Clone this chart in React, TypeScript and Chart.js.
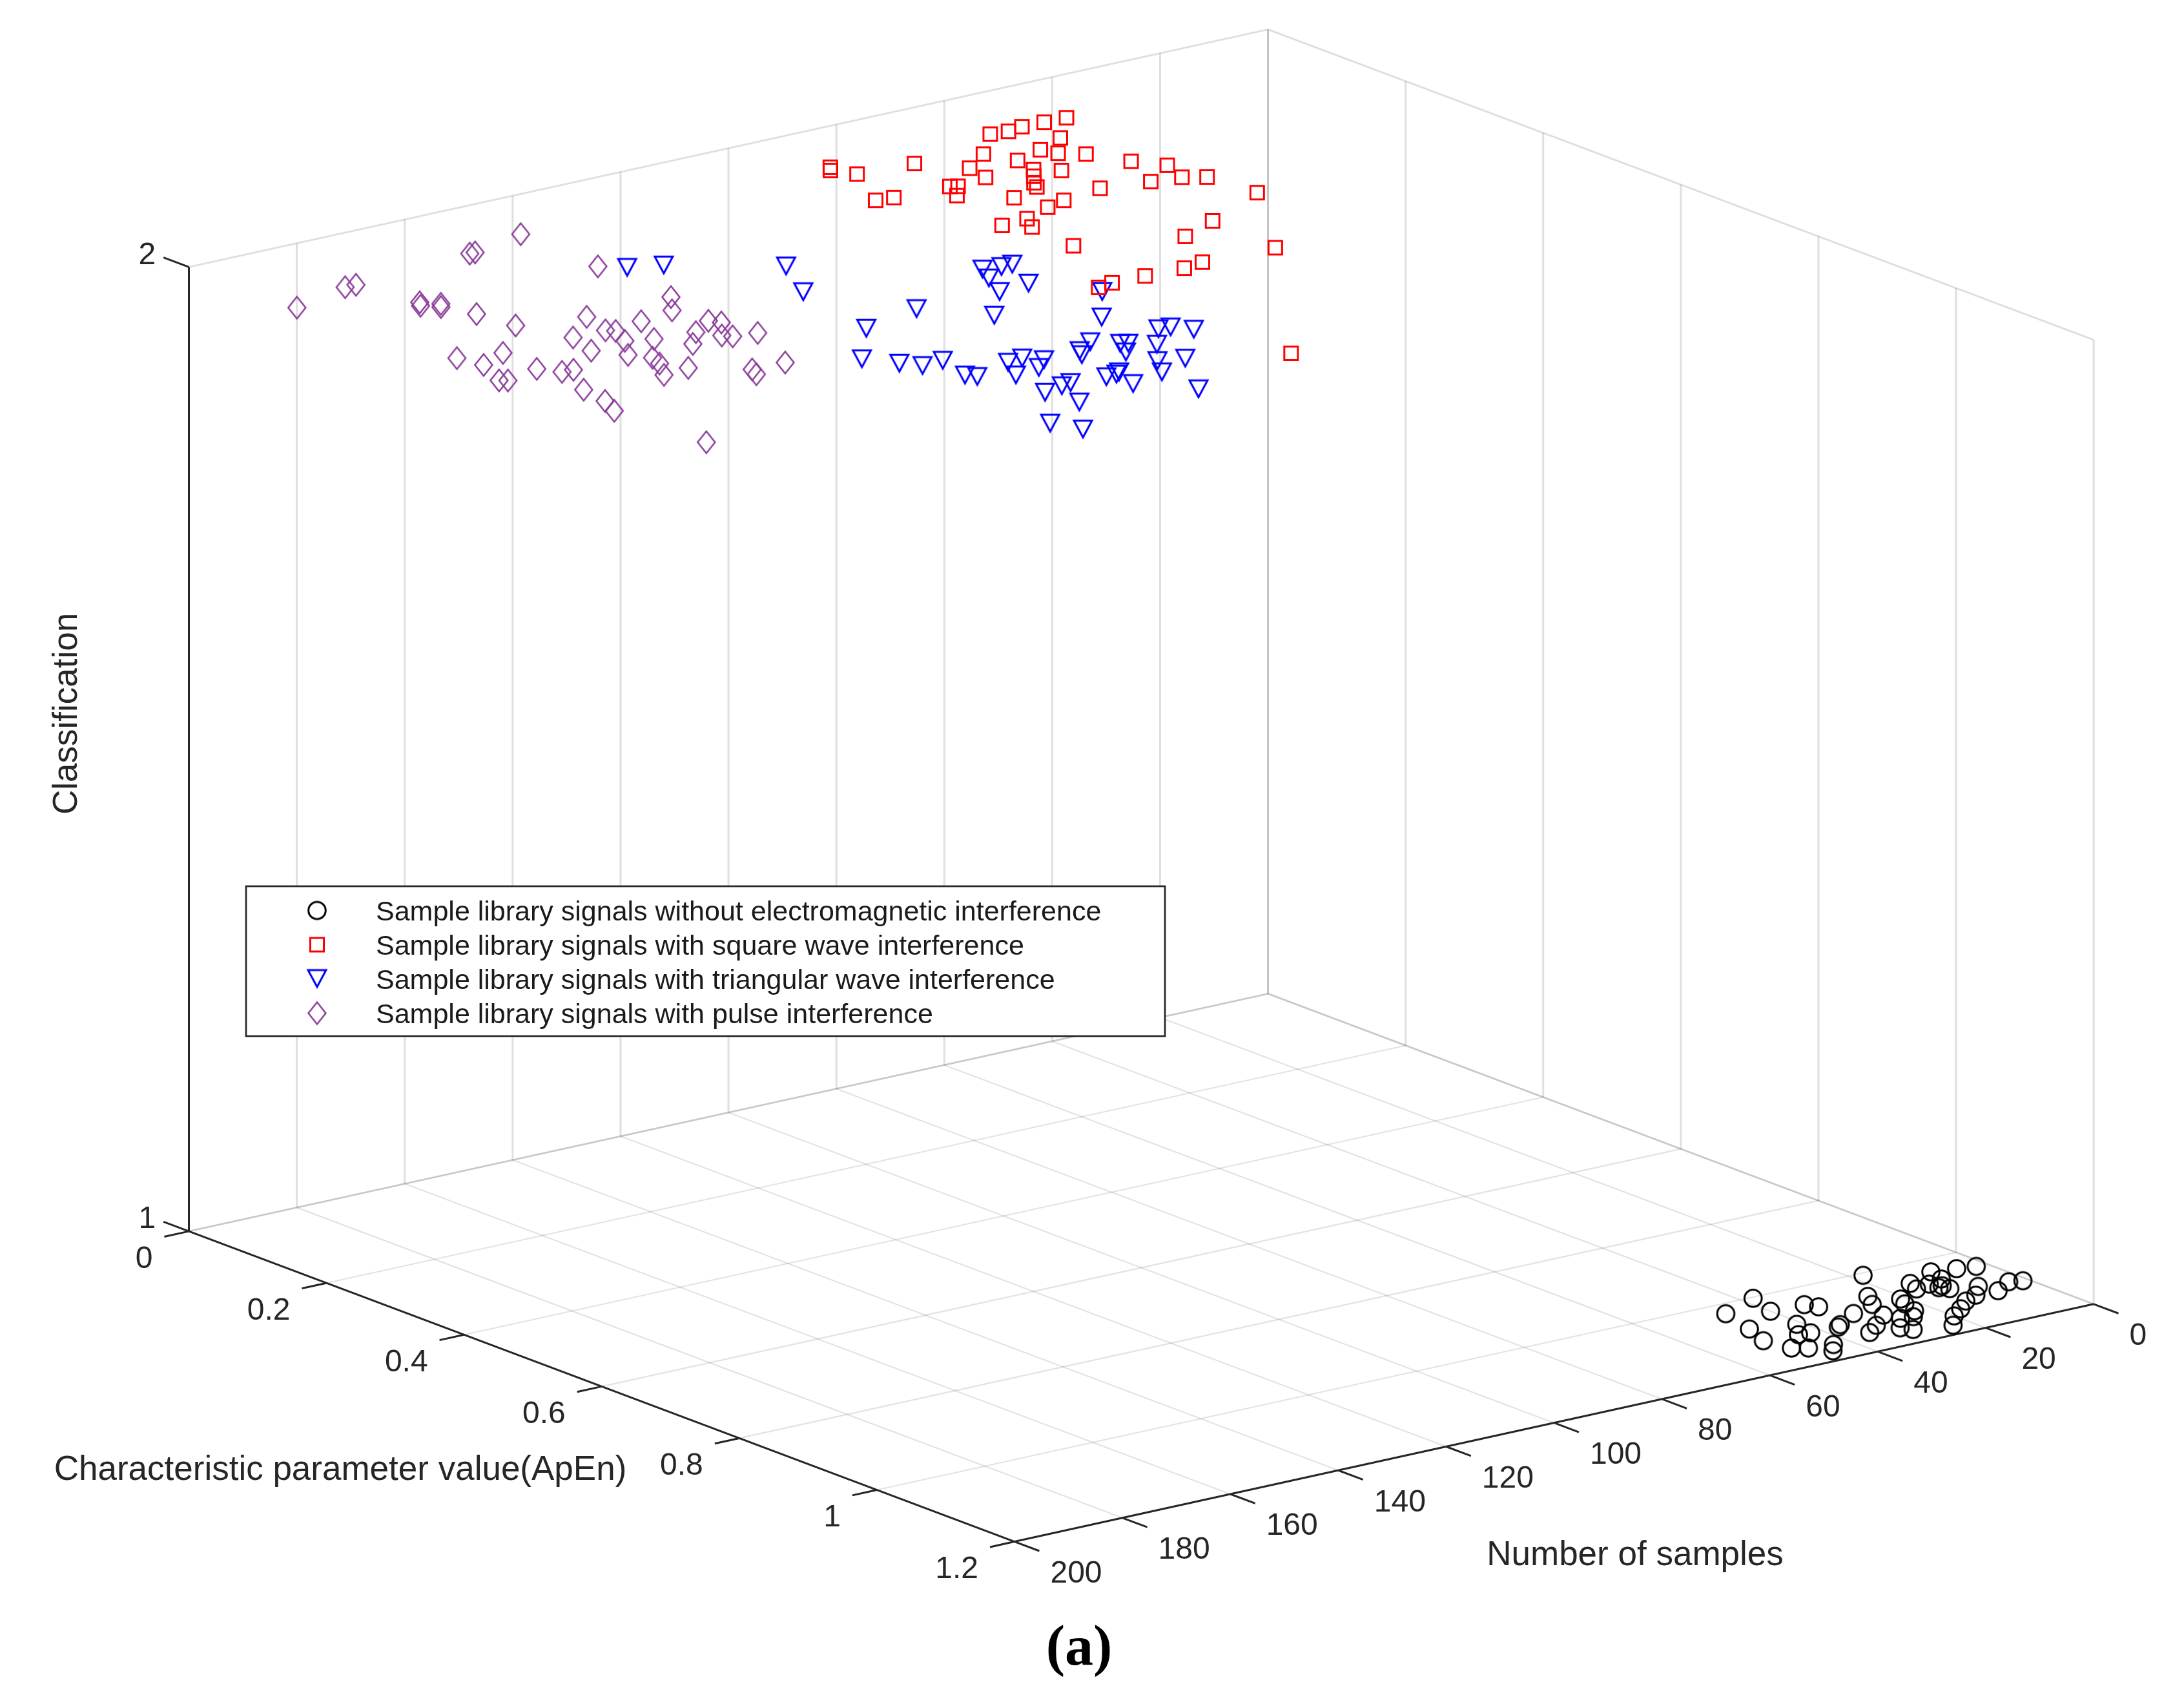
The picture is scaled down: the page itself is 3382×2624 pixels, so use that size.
import React, { useEffect, useRef } from "react";
import { Chart, registerables } from "chart.js";

Chart.register(...registerables);

const CANVAS_W = 3382;
const CANVAS_H = 2624;

// ---------------- data ----------------
const seriesLabels = [
  "Sample library signals without electromagnetic interference",
  "Sample library signals with square wave interference",
  "Sample library signals with triangular wave interference",
  "Sample library signals with pulse interference",
];
const seriesClass = [1, 2, 2, 2];

const cleanSamples = [1, 2, 3, 5, 7, 8, 9, 10, 11, 12, 12, 13, 13, 14, 15, 16, 17, 18, 20, 21, 22, 23, 23, 24, 25, 26, 27, 28, 29, 30, 31, 32, 33, 34, 35, 36, 37, 38, 40, 41, 42, 43, 44, 45, 46, 47, 48, 49, 50];
const cleanApEn = [1.105, 1.045, 1.1, 1.04, 1.116, 1.095, 1.034, 1.057, 1.115, 1.074, 1.085, 1.063, 1.077, 1.124, 1.051, 1.068, 1.14, 1.006, 1.154, 1.084, 1.098, 1.176, 1.12, 1.06, 1.134, 1.082, 1.131, 1.114, 1.165, 1.154, 1.094, 1.135, 1.059, 1.046, 1.149, 1.114, 1.119, 1.003, 1.044, 1.09, 1.118, 1.159, 1.116, 1.174, 1.026, 1.154, 1.076, 1.145, 1.112];

const squareSamples = [51, 52, 53, 54, 55, 56, 57, 58, 59, 60, 61, 62, 63, 64, 65, 66, 67, 68, 69, 70, 71, 72, 73, 74, 75, 76, 77, 78, 79, 80, 81, 82, 83, 84, 85, 86, 87, 88, 89, 90, 91, 92, 93, 94, 95, 96, 97, 98, 99, 100];
const squareApEn = [0.107, 0.392, 0.327, 0.277, 0.106, 0.314, 0.248, 0.153, 0.105, 0.206, 0.308, 0.109, 0.189, 0.171, 0.106, 0.437, 0.536, 0.233, 0.297, 0.185, 0.216, 0.151, 0.232, 0.46, 0.248, 0.26, 0.307, 0.178, 0.209, 0.532, 0.315, 0.274, 0.137, 0.537, 0.216, 0.212, 0.332, 0.238, 0.355, 0.423, 0.535, 0.335, 0.132, 0.101, 0.109, 0.209, 0.534, 0.802, 0.206, 0.538];

const triangleSamples = [101, 102, 103, 104, 105, 106, 107, 108, 109, 110, 111, 112, 113, 114, 115, 116, 117, 118, 119, 120, 121, 122, 123, 124, 125, 126, 127, 128, 129, 130, 131, 132, 133, 134, 135, 136, 137, 138, 139, 140, 141, 142, 143, 144, 145, 146, 147, 148, 149, 150];
const triangleApEn = [0.551, 0.692, 0.436, 0.674, 0.436, 0.672, 0.491, 0.432, 0.613, 0.457, 0.709, 0.758, 0.496, 0.691, 0.687, 0.749, 0.711, 0.667, 0.779, 0.84, 0.551, 0.683, 0.694, 0.756, 0.76, 0.792, 0.761, 0.493, 0.686, 0.319, 0.67, 0.702, 0.756, 0.673, 0.759, 0.391, 0.708, 0.808, 0.766, 0.514, 0.633, 0.691, 0.681, 0.251, 0.635, 0.876, 0.617, 0.844, 0.237, 0.586];

const pulseSamples = [151, 152, 153, 154, 155, 156, 157, 158, 159, 160, 161, 162, 163, 164, 165, 166, 167, 168, 169, 170, 171, 172, 173, 174, 175, 176, 177, 178, 179, 180, 181, 182, 183, 184, 185, 186, 187, 188, 189, 190, 191, 192, 193, 194, 195, 196, 197, 198, 199, 200];
const pulseApEn = [0.098, 0.218, 0.332, 0.466, 0.421, 0.41, 0.365, 0.461, 0.453, 0.553, 0.431, 0.118, 0.118, 0.375, 0.458, 0.552, 0.566, 0.425, 0.335, 0.385, 0.378, 0.414, 0.514, 0.47, 0.488, 0.45, 0.378, 0.518, 0.42, 0.318, 0.269, 0.225, 0.233, 0.21, 0.219, 0.133, 0.457, 0.133, 0.456, 0.378, 0.435, 0.511, 0.55, 0.705, 0.579, 0.397, 0.366, 0.448, 0.443, 0.157];

const sampleRange = [0, 200];
const apenRange = [0, 1.2];
const classRange = [1, 2];
const sampleTicks = [0, 20, 40, 60, 80, 100, 120, 140, 160, 180, 200];
const apenTicks = [0, 0.2, 0.4, 0.6, 0.8, 1, 1.2];
const apenTickLabels = ["0", "0.2", "0.4", "0.6", "0.8", "1", "1.2"];
const classTicks = [1, 2];

const axisTitles = {
  samples: "Number of samples",
  apen: "Characteristic parameter value(ApEn)",
  cls: "Classification",
};
const caption = "(a)";

// ---------------- view (orthographic camera) ----------------
const VIEW = {
  origin: { x: 1966, y: 1541 }, // samples min, ApEn min, class min
  samples: { x: -1686, y: 372 }, // across full samples range
  apen: { x: 1290, y: 486 }, // across full ApEn range
  cls: { x: 0, y: -1510 }, // across full class range
};

function project(s: number, a: number, z: number) {
  const u = (s - sampleRange[0]) / (sampleRange[1] - sampleRange[0]);
  const v = (a - apenRange[0]) / (apenRange[1] - apenRange[0]);
  const w = (z - classRange[0]) / (classRange[1] - classRange[0]);
  return {
    x: VIEW.origin.x + u * VIEW.samples.x + v * VIEW.apen.x + w * VIEW.cls.x,
    y: VIEW.origin.y + u * VIEW.samples.y + v * VIEW.apen.y + w * VIEW.cls.y,
  };
}

const FONT = '"Liberation Sans", Arial, Helvetica, sans-serif';
const AXIS_COLOR = "#262626";
const WALL_GRID = "rgba(38,38,38,0.15)";
const FLOOR_GRID = "rgba(38,38,38,0.13)";
const COLORS = ["#000000", "#ff0000", "#0000ff", "#8a3b9a"];
const SHAPES = ["circle", "square", "triangle", "diamond"];

function makeMarker(kind: string, color: string): HTMLCanvasElement {
  const c = document.createElement("canvas");
  c.width = 48;
  c.height = 48;
  const g = c.getContext("2d") as CanvasRenderingContext2D;
  g.translate(24, 24);
  g.strokeStyle = color;
  g.lineWidth = kind === "diamond" ? 2.5 : 3;
  g.lineJoin = "miter";
  g.beginPath();
  if (kind === "circle") {
    g.arc(0, 0, 13.3, 0, Math.PI * 2);
  } else if (kind === "square") {
    g.rect(-10.5, -10.5, 21, 21);
  } else if (kind === "triangle") {
    g.moveTo(-14, -13.8);
    g.lineTo(14, -13.8);
    g.lineTo(0, 12.3);
    g.closePath();
  } else {
    g.moveTo(0, -17);
    g.lineTo(13.5, 0);
    g.lineTo(0, 17);
    g.lineTo(-13.5, 0);
    g.closePath();
  }
  g.stroke();
  return c;
}

export default function App() {
  const ref = useRef<HTMLCanvasElement | null>(null);

  useEffect(() => {
    document.body.style.margin = "0";
    document.body.style.overflow = "hidden";
    const canvas = ref.current;
    if (!canvas) return;

    const markers = SHAPES.map((k, i) => makeMarker(k, COLORS[i]));
    const seriesSamples = [cleanSamples, squareSamples, triangleSamples, pulseSamples];
    const seriesApEn = [cleanApEn, squareApEn, triangleApEn, pulseApEn];

    const datasets = seriesLabels.map((label, i) => ({
      label,
      data: seriesSamples[i].map((s, j) => project(s, seriesApEn[i][j], seriesClass[i])),
      pointStyle: markers[i] as any,
      pointRadius: 14,
      showLine: false,
      clip: false as any,
    }));

    const px = (chart: any, s: number, a: number, z: number) => {
      const p = project(s, a, z);
      return { x: chart.scales.x.getPixelForValue(p.x), y: chart.scales.y.getPixelForValue(p.y) };
    };

    const line = (ctx: CanvasRenderingContext2D, p: any, q: any) => {
      ctx.beginPath();
      ctx.moveTo(p.x, p.y);
      ctx.lineTo(q.x, q.y);
      ctx.stroke();
    };

    const unit = (p: any, q: any) => {
      const dx = q.x - p.x;
      const dy = q.y - p.y;
      const l = Math.hypot(dx, dy);
      return { x: dx / l, y: dy / l };
    };

    const sMin = sampleRange[0], sMax = sampleRange[1];
    const aMin = apenRange[0], aMax = apenRange[1];
    const zMin = classRange[0], zMax = classRange[1];

    const box3d = {
      id: "box3d",
      beforeDraw(chart: any) {
        const ctx = chart.ctx as CanvasRenderingContext2D;
        ctx.save();
        ctx.fillStyle = "#ffffff";
        ctx.fillRect(0, 0, chart.width, chart.height);
        ctx.restore();
      },
      beforeDatasetsDraw(chart: any) {
        const ctx = chart.ctx as CanvasRenderingContext2D;
        ctx.save();
        ctx.lineCap = "butt";
        // floor grid
        ctx.strokeStyle = FLOOR_GRID;
        ctx.lineWidth = 2.2;
        sampleTicks.forEach((s) => line(ctx, px(chart, s, aMin, zMin), px(chart, s, aMax, zMin)));
        apenTicks.forEach((a) => line(ctx, px(chart, sMin, a, zMin), px(chart, sMax, a, zMin)));
        // back wall at ApEn min
        ctx.strokeStyle = WALL_GRID;
        ctx.lineWidth = 3;
        sampleTicks.forEach((s) => line(ctx, px(chart, s, aMin, zMin), px(chart, s, aMin, zMax)));
        classTicks.forEach((z) => line(ctx, px(chart, sMin, aMin, z), px(chart, sMax, aMin, z)));
        // back wall at samples min
        apenTicks.forEach((a) => line(ctx, px(chart, sMin, a, zMin), px(chart, sMin, a, zMax)));
        classTicks.forEach((z) => line(ctx, px(chart, sMin, aMin, z), px(chart, sMin, aMax, z)));

        // axes
        ctx.strokeStyle = AXIS_COLOR;
        ctx.lineWidth = 3;
        line(ctx, px(chart, sMax, aMin, zMin), px(chart, sMax, aMin, zMax));
        line(ctx, px(chart, sMax, aMin, zMin), px(chart, sMax, aMax, zMin));
        line(ctx, px(chart, sMax, aMax, zMin), px(chart, sMin, aMax, zMin));

        const uA = unit(px(chart, sMin, aMin, zMin), px(chart, sMin, aMax, zMin));
        const uS = unit(px(chart, sMin, aMin, zMin), px(chart, sMax, aMin, zMin));

        ctx.fillStyle = AXIS_COLOR;
        ctx.font = `48px ${FONT}`;

        // class (z) ticks
        classTicks.forEach((z) => {
          const p = px(chart, sMax, aMin, z);
          const e = { x: p.x - uA.x * 42, y: p.y - uA.y * 42 };
          line(ctx, p, e);
          ctx.textAlign = "right";
          ctx.textBaseline = "alphabetic";
          ctx.fillText(String(z), e.x - 12, e.y + 10);
        });
        // ApEn ticks
        apenTicks.forEach((a, i) => {
          const p = px(chart, sMax, a, zMin);
          const e = { x: p.x + uS.x * 39, y: p.y + uS.y * 39 };
          line(ctx, p, e);
          ctx.textAlign = "right";
          ctx.textBaseline = "alphabetic";
          ctx.fillText(apenTickLabels[i], e.x - 18, e.y + 48);
        });
        // samples ticks
        sampleTicks.forEach((s) => {
          const p = px(chart, s, aMax, zMin);
          const e = { x: p.x + uA.x * 41, y: p.y + uA.y * 41 };
          line(ctx, p, e);
          ctx.textAlign = "left";
          ctx.textBaseline = "alphabetic";
          ctx.fillText(String(s), e.x + 17, e.y + 49);
        });

        // axis titles
        ctx.font = `53px ${FONT}`;
        ctx.textAlign = "center";
        ctx.textBaseline = "alphabetic";
        ctx.fillText(axisTitles.apen, 527, 2291);
        ctx.fillText(axisTitles.samples, 2532, 2423);
        ctx.save();
        ctx.translate(104, 1105);
        ctx.rotate(-Math.PI / 2);
        ctx.textBaseline = "middle";
        ctx.fillText(axisTitles.cls, 0, 0);
        ctx.restore();
        ctx.restore();
      },
      afterDatasetsDraw(chart: any) {
        const ctx = chart.ctx as CanvasRenderingContext2D;
        ctx.save();
        // legend
        const lx = 381, ly = 1372, lw = 1423, lh = 232;
        ctx.fillStyle = "#ffffff";
        ctx.fillRect(lx, ly, lw, lh);
        ctx.strokeStyle = AXIS_COLOR;
        ctx.lineWidth = 2.7;
        ctx.strokeRect(lx, ly, lw, lh);
        ctx.font = `43px ${FONT}`;
        ctx.fillStyle = "#1a1a1a";
        ctx.textAlign = "left";
        ctx.textBaseline = "alphabetic";
        seriesLabels.forEach((label, i) => {
          const cy = 1409.5 + i * 53;
          const m = markers[i];
          ctx.drawImage(m, 491 - m.width / 2, cy - m.height / 2);
          ctx.fillText(label, 582, cy + 15.5);
        });
        // caption
        ctx.font = `bold 88px "Liberation Serif", "Times New Roman", serif`;
        ctx.fillStyle = "#000000";
        ctx.textAlign = "center";
        ctx.fillText(caption, 1671, 2577);
        ctx.restore();
      },
    };

    const chart = new Chart(canvas, {
      type: "scatter",
      data: { datasets: datasets as any },
      options: {
        responsive: false,
        animation: false,
        devicePixelRatio: 1,
        events: [],
        layout: { padding: 0 },
        scales: {
          x: { type: "linear", min: 0, max: CANVAS_W, display: false },
          y: { type: "linear", min: 0, max: CANVAS_H, reverse: true, display: false },
        },
        plugins: {
          legend: { display: false },
          tooltip: { enabled: false },
        },
      },
      plugins: [box3d as any],
    });

    return () => chart.destroy();
  }, []);

  return (
    <div style={{ width: CANVAS_W, height: CANVAS_H, background: "#ffffff" }}>
      <canvas
        ref={ref}
        width={CANVAS_W}
        height={CANVAS_H}
        style={{ display: "block", width: `${CANVAS_W}px`, height: `${CANVAS_H}px` }}
      />
    </div>
  );
}
